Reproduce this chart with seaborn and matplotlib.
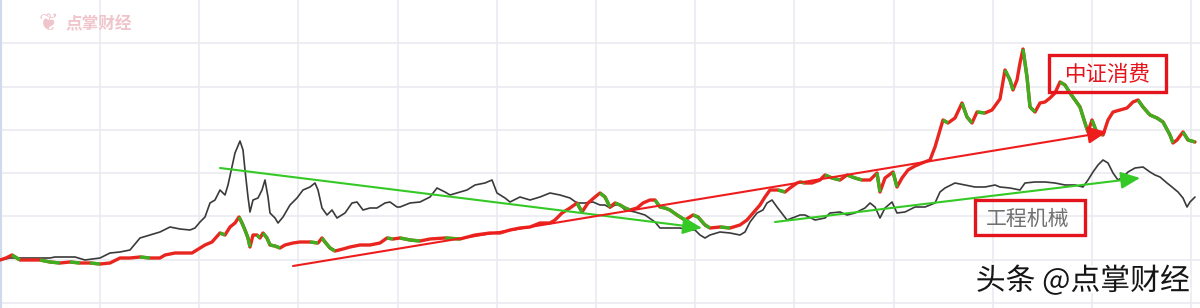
import numpy as np
import pandas as pd
import matplotlib
matplotlib.use("Agg")
import matplotlib.pyplot as plt
import matplotlib.patheffects as pe
from matplotlib.collections import LineCollection
from matplotlib.patches import Rectangle
import seaborn as sns

# ---------------- data ----------------
machinery_day = [0, 10, 30, 50, 55, 65, 75, 85, 100, 110, 120, 130, 140, 150, 160, 170, 180, 190, 195,
                 200, 205, 210, 215, 220, 225, 228, 232, 235, 240, 243, 245, 248, 250, 253, 258, 262, 265,
                 268, 270, 275, 278, 283, 290, 297, 303, 310, 315, 318, 322, 327, 332, 337, 345, 352, 357,
                 363, 370, 377, 385, 390, 397, 400, 410, 420, 430, 437, 445, 450, 460, 467, 475, 485, 492,
                 497, 505, 510, 520, 530, 540, 550, 560, 570, 577, 585, 593, 600, 605, 610, 615, 620, 625,
                 635, 645, 655, 660, 670, 680, 690, 695, 700, 705, 710, 720, 730, 740, 745, 750, 757, 763,
                 767, 772, 777, 787, 795, 800, 805, 815, 825, 830, 840, 847, 855, 865, 870, 875, 880, 885,
                 892, 897, 905, 915, 925, 935, 940, 945, 955, 965, 975, 985, 995, 1000, 1010, 1020, 1025,
                 1035, 1045, 1055, 1065, 1075, 1083, 1088, 1093, 1098, 1103, 1108, 1113, 1118, 1123, 1128,
                 1135, 1143, 1150, 1155, 1160, 1167, 1172, 1178, 1183, 1187, 1190, 1195]
machinery_val = [48, 50, 50, 50, 51, 51, 51, 48, 50, 55, 56, 58, 70, 73, 76, 81, 79, 78, 80,
                 86, 91, 105, 108, 118, 113, 123, 141, 155, 167, 158, 138, 111, 96, 108, 110, 118, 128,
                 111, 95, 90, 85, 91, 103, 110, 118, 121, 125, 118, 100, 93, 98, 90, 95, 105, 106,
                 98, 100, 100, 105, 106, 101, 101, 105, 106, 111, 120, 116, 113, 116, 118, 123, 125, 128,
                 115, 110, 106, 111, 108, 111, 115, 113, 110, 105, 105, 106, 103, 103, 100, 103, 103, 98,
                 96, 93, 86, 80, 80, 80, 78, 78, 73, 70, 73, 76, 75, 73, 76, 86, 95, 98,
                 105, 108, 101, 88, 91, 93, 93, 88, 90, 95, 96, 93, 95, 100, 105, 101, 90, 100,
                 106, 95, 96, 101, 101, 105, 116, 120, 125, 123, 121, 121, 123, 121, 120, 118, 125,
                 126, 126, 125, 123, 123, 121, 128, 136, 143, 148, 145, 135, 128, 131, 136,
                 140, 141, 136, 133, 131, 125, 121, 116, 110, 101, 106, 111]

consumer_day = [0, 6, 12, 20, 30, 40, 50, 60, 70, 80, 90, 100, 110, 120, 130, 140, 150, 160, 165, 175,
                185, 192, 200, 205, 212, 220, 225, 230, 235, 239, 242, 245, 248, 250, 253, 257, 260, 263,
                267, 270, 275, 280, 285, 293, 300, 310, 318, 322, 325, 330, 335, 343, 350, 360, 370, 380,
                387, 393, 400, 410, 420, 430, 445, 460, 475, 490, 500, 510, 520, 530, 540, 550, 555, 562,
                570, 577, 582, 588, 595, 600, 605, 610, 615, 620, 625, 630, 637, 643, 650, 655, 660, 665,
                670, 677, 685, 693, 698, 705, 710, 720, 730, 740, 747, 753, 760, 765, 770, 778, 785, 790,
                797, 800, 805, 812, 820, 825, 832, 840, 847, 855, 862, 870, 877, 880, 885, 893, 897, 902,
                908, 915, 922, 930, 935, 940, 943, 948, 955, 962, 967, 972, 977, 985, 992, 1000, 1005,
                1010, 1013, 1017, 1020, 1023, 1027, 1030, 1035, 1040, 1045, 1050, 1055, 1060, 1065, 1070,
                1075, 1080, 1085, 1088, 1092, 1097, 1103, 1108, 1113, 1120, 1127, 1133, 1138, 1143, 1150,
                1157, 1163, 1170, 1173, 1177, 1183, 1188, 1195]
consumer_val = [48, 50, 53, 48, 48, 48, 46, 45, 46, 45, 45, 44, 45, 50, 50, 51, 50, 50, 53, 55,
                55, 55, 60, 63, 66, 75, 73, 81, 85, 91, 85, 78, 70, 61, 73, 73, 70, 75,
                70, 63, 62, 60, 63, 65, 66, 66, 65, 70, 66, 60, 57, 59, 61, 63, 63, 65,
                70, 69, 70, 68, 67, 69, 70, 69, 73, 75, 75, 78, 80, 81, 85, 85, 88, 95,
                100, 105, 96, 105, 111, 115, 111, 101, 105, 103, 100, 98, 100, 105, 108, 108, 101, 100,
                98, 93, 88, 93, 91, 83, 80, 81, 80, 83, 88, 95, 103, 111, 118, 118, 116, 120,
                125, 126, 125, 125, 128, 133, 130, 128, 133, 130, 128, 128, 135, 116, 130, 136, 121, 130,
                138, 142, 145, 148, 161, 178, 188, 185, 190, 205, 191, 185, 196, 195, 198, 209, 238,
                228, 218, 228, 245, 259, 231, 201, 196, 205, 206, 210, 215, 226, 223, 215,
                208, 201, 185, 176, 188, 175, 173, 188, 196, 198, 200, 206, 208, 201, 193,
                190, 186, 173, 165, 168, 176, 168, 166]

series_labels = ["中证消费", "工程机械"]
footer_text = "头条 @点掌财经"
watermark_text = "点掌财经"

# ---------------- style ----------------
sns.set_theme(style="white")
plt.rcParams["font.family"] = ["Noto Sans CJK SC", "DejaVu Sans"]

fig = plt.figure(figsize=(12, 3.08), dpi=100)
ax = fig.add_axes([0, 0, 1, 1])

df_m = pd.DataFrame({"day": machinery_day, "value": machinery_val})
df_c = pd.DataFrame({"day": consumer_day, "value": consumer_val})

grid_c = "#e9ebf1"
ax.set_xlim(0, 1200)
ax.set_ylim(0, 308)
ax.set_xticks([100 + 99.2 * k for k in range(12)])
ax.set_yticks([5 + 43.3 * k for k in range(7)])
ax.grid(True, color=grid_c, lw=1.2)
ax.tick_params(length=0, labelbottom=False, labelleft=False)
for s in ["top", "right", "bottom"]:
    ax.spines[s].set_visible(False)
ax.spines["left"].set_color("#cfdbeb")
ax.spines["left"].set_linewidth(3)

# gray series
sns.lineplot(data=df_m, x="day", y="value", ax=ax, color="#3a3a3a", lw=1.2, zorder=3)

# red/green series: red when rising, green when falling
sns.lineplot(data=df_c, x="day", y="value", ax=ax, color="#e8251e", lw=2.4, zorder=4)
pts = np.column_stack([df_c["day"], df_c["value"]])
segs = np.stack([pts[:-1], pts[1:]], axis=1)
falling = np.diff(df_c["value"].to_numpy()) < 0
lc = LineCollection(segs[falling], colors="#3cb01e", linewidths=2.4, zorder=5, capstyle="butt")
ax.add_collection(lc)

# trend arrows
def arrow(p0, p1, color):
    ax.annotate("", xy=p1, xytext=p0,
                arrowprops=dict(arrowstyle="-|>,head_length=0.9,head_width=0.4",
                                color=color, lw=1.5, mutation_scale=13, shrinkA=0, shrinkB=0),
                zorder=6)

arrow((220, 140), (702, 80), "#34c924")
arrow((293, 42), (1107, 176), "#ee1c1c")
arrow((775, 86), (1140, 130), "#34c924")

# label boxes
ax.add_patch(Rectangle((1049, 216), 117, 37, fill=False, ec="#e3141b", lw=2.4, zorder=7))
ax.text(1107.5, 233, series_labels[0], color="#e3141b", fontsize=15.5,
        ha="center", va="center", zorder=8)
ax.add_patch(Rectangle((975, 73), 110, 35, fill=False, ec="#e3141b", lw=2.4, zorder=7))
ax.text(1028, 89, series_labels[1], color="#707070", fontsize=15,
        ha="center", va="center", zorder=8)

# watermark
ax.text(65, 284, watermark_text, color="#f0c4cb", fontsize=12, fontweight="bold",
        ha="left", va="center", zorder=2)
ax.text(48, 285, "❦", color="#f0c4cb", fontsize=17, ha="center", va="center",
        family=["DejaVu Sans"], zorder=2)

# footer
ax.text(1190, 27, footer_text, color="#151515", fontsize=21.5, ha="right", va="center", zorder=9,
        path_effects=[pe.withStroke(linewidth=3, foreground="white")])

fig.savefig("out.png", dpi=100)
